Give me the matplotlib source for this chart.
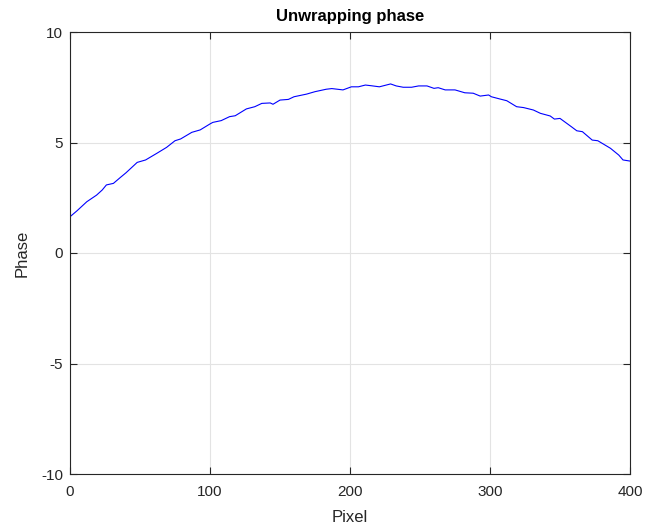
import matplotlib
matplotlib.use("Agg")
import matplotlib.pyplot as plt

plt.rcParams['font.family'] = ['Liberation Sans', 'DejaVu Sans']
plt.rcParams['axes.unicode_minus'] = False

# values
pixel = [0, 5, 12, 19, 23, 26, 31, 36, 40, 48, 54, 62, 69, 75, 79, 87, 93,
         100, 102, 108, 114, 118, 126, 132, 137, 143, 145, 150, 156, 160,
         169, 175, 183, 187, 195, 198, 201, 206, 211, 215, 221, 229, 233,
         238, 244, 249, 255, 260, 263, 268, 275, 282, 288, 293, 299, 301,
         307, 312, 319, 324, 331, 336, 343, 346, 350, 358, 362, 366, 373,
         377, 386, 392, 395, 400]
phase = [1.64, 1.91, 2.32, 2.62, 2.85, 3.08, 3.15, 3.42, 3.63, 4.10, 4.21,
         4.51, 4.78, 5.08, 5.16, 5.46, 5.57, 5.84, 5.91, 5.99, 6.17, 6.21,
         6.52, 6.62, 6.77, 6.79, 6.73, 6.92, 6.95, 7.07, 7.19, 7.30, 7.41,
         7.44, 7.38, 7.45, 7.52, 7.52, 7.60, 7.57, 7.52, 7.65, 7.56, 7.50,
         7.50, 7.56, 7.56, 7.45, 7.48, 7.38, 7.38, 7.25, 7.23, 7.10, 7.15,
         7.07, 6.97, 6.89, 6.62, 6.58, 6.47, 6.32, 6.20, 6.06, 6.09, 5.72,
         5.53, 5.49, 5.11, 5.08, 4.74, 4.43, 4.21, 4.16]

fig = plt.figure(figsize=(6.45, 5.31), dpi=100)
ax = fig.add_axes([70/645, 57/531, 560/645, 442/531])

ax.plot(pixel, phase, color=(0, 0, 1), linewidth=0.8)

ax.set_xlim(0, 400)
ax.set_ylim(-10, 10)
ax.set_xticks([0, 100, 200, 300, 400])
ax.set_yticks([-10, -5, 0, 5, 10])
ax.grid(True, color='#e3e3e3', linewidth=0.8)
ax.set_axisbelow(True)
ax.tick_params(direction='in', top=True, right=True, labelsize=11,
               colors='#262626', length=5, width=0.8)
ax.tick_params(axis='x', pad=8)
ax.tick_params(axis='y', pad=5)
for s in ax.spines.values():
    s.set_color('#262626')
    s.set_linewidth(0.8)

ax.set_xlabel('Pixel', fontsize=12, color='#262626', labelpad=8)
ax.set_ylabel('Phase', fontsize=12, color='#262626', labelpad=8)
ax.set_title('Unwrapping phase', fontsize=12, fontweight='bold', pad=8)

plt.savefig('out.png', dpi=100)
